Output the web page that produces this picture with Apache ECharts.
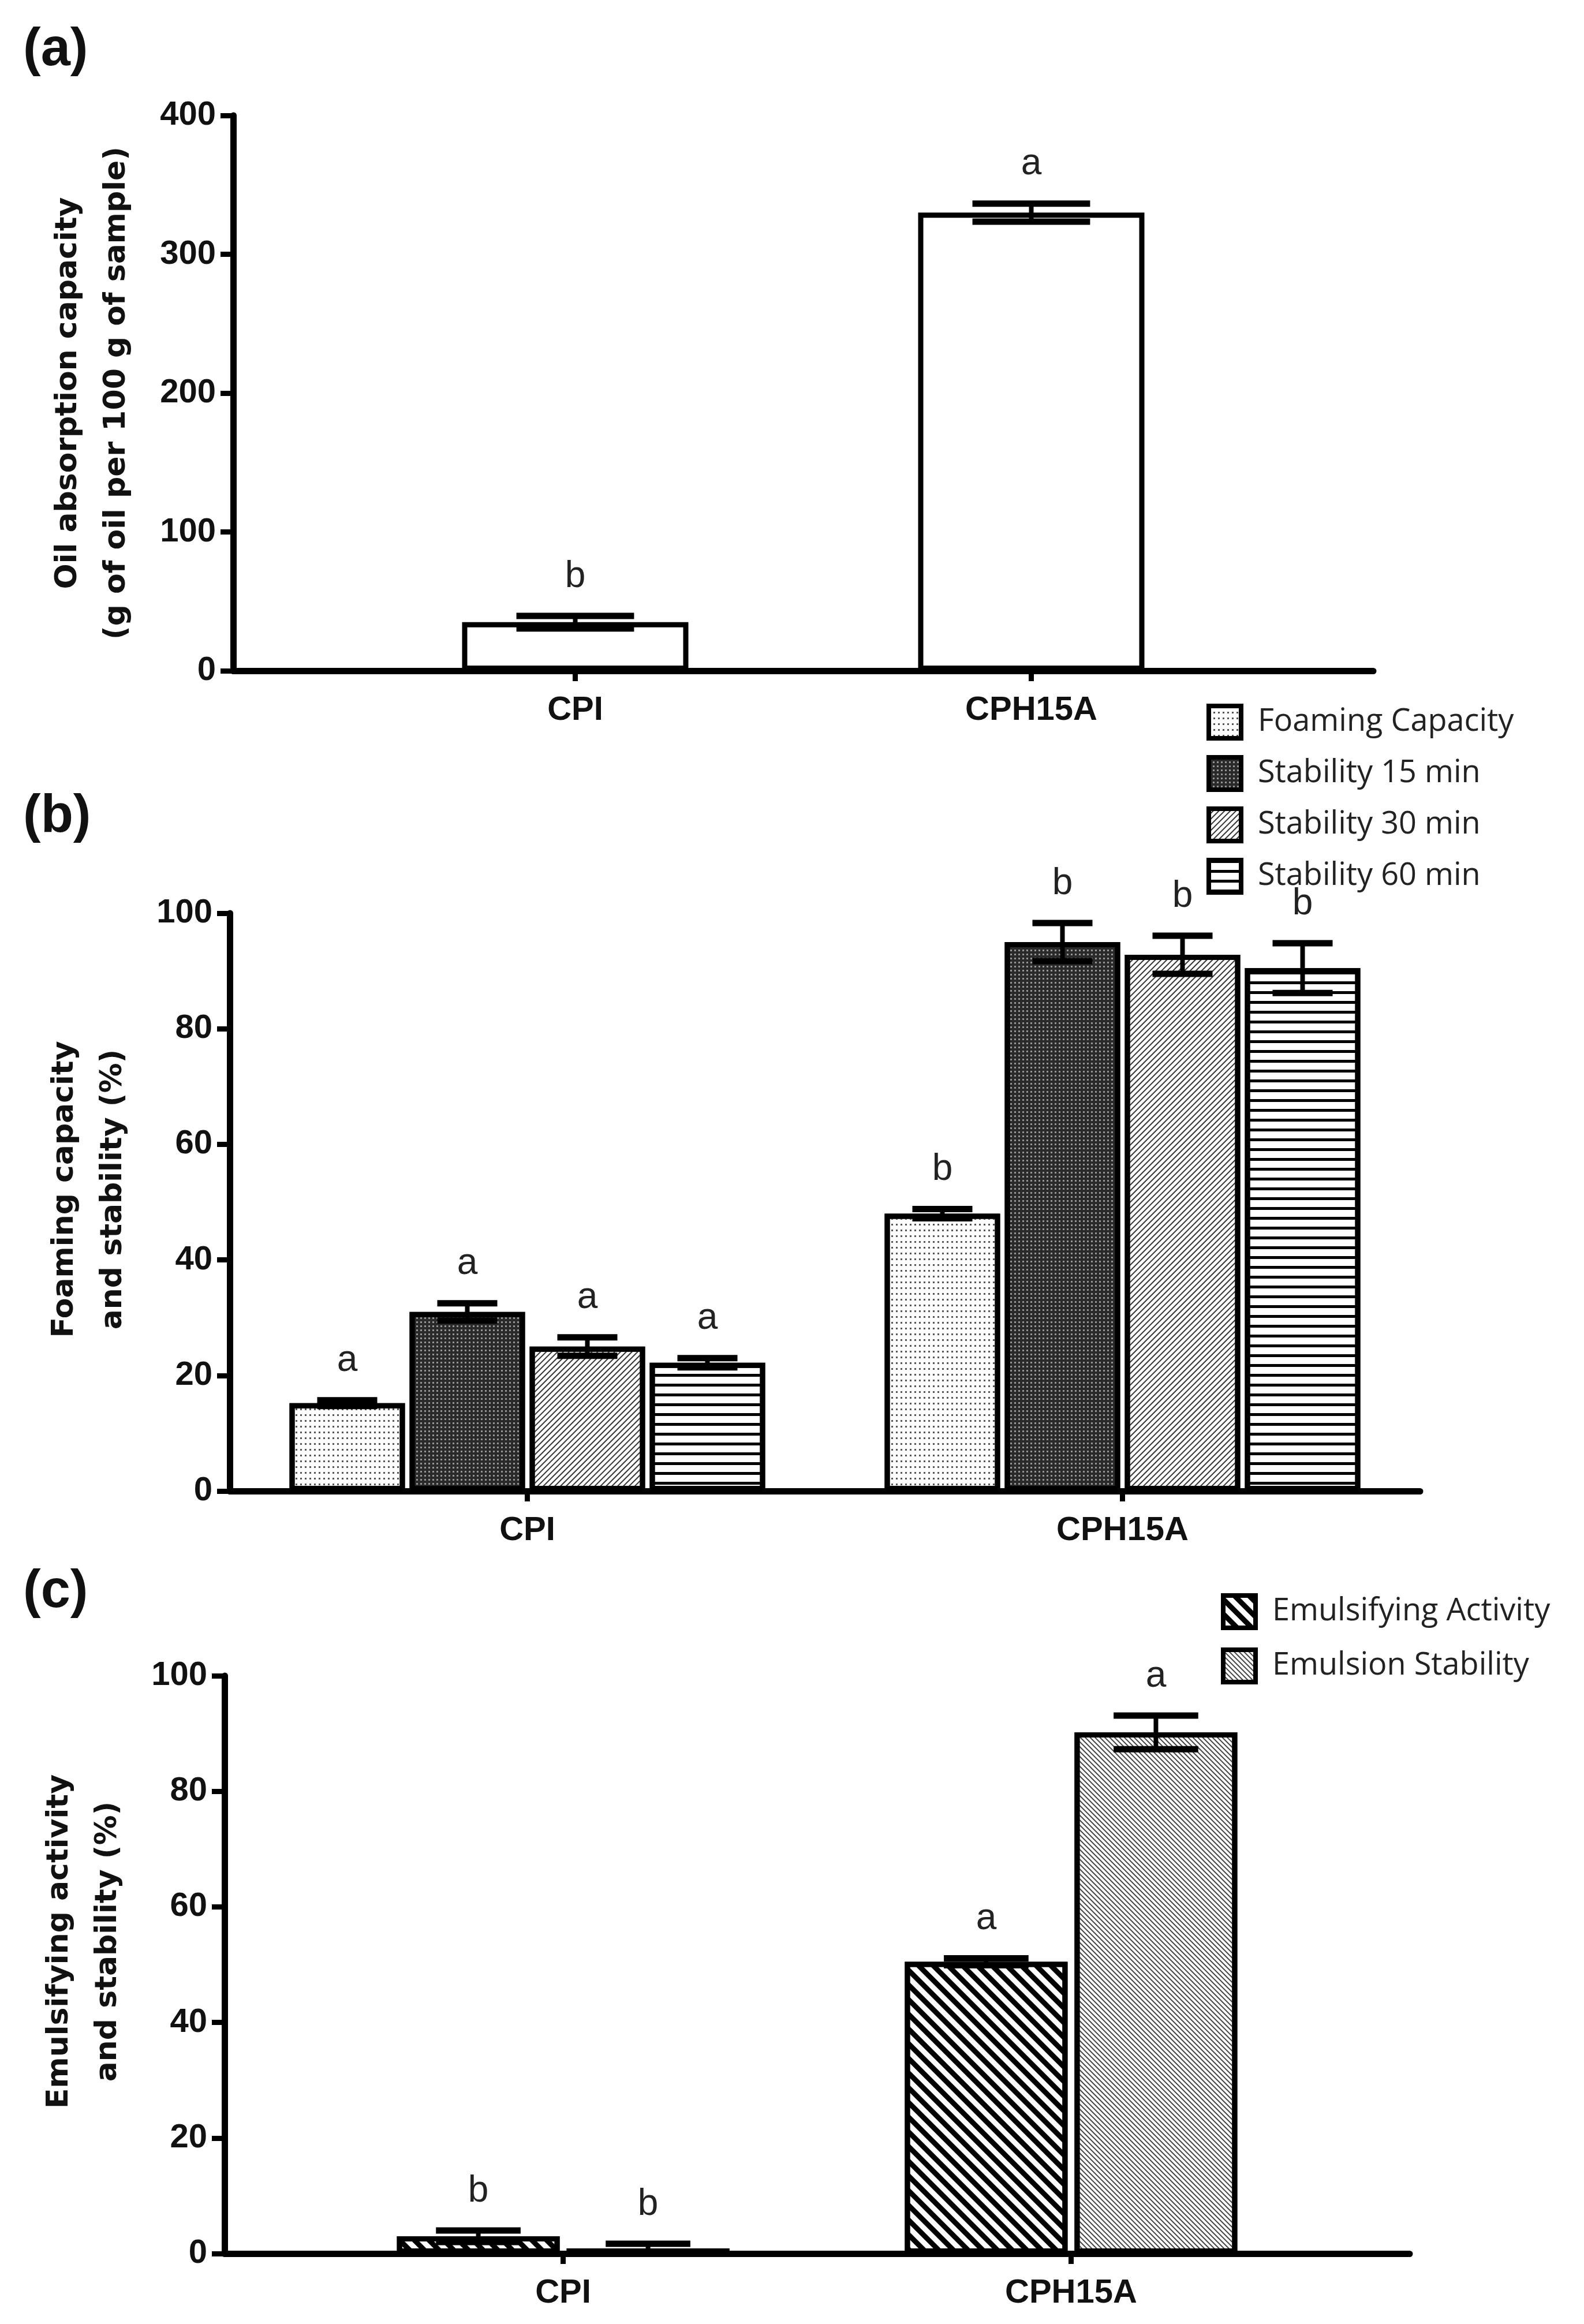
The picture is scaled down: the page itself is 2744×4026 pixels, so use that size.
<!DOCTYPE html>
<html><head><meta charset="utf-8">
<script src="https://cdn.jsdelivr.net/npm/echarts@6/dist/echarts.min.js"></script>
<style>html,body{margin:0;padding:0;background:#fff}#c{width:2744px;height:4026px}</style>
</head><body><div id="c"></div>
<script>
// ---------- Panel (a) ----------
const aCategories = ['CPI', 'CPH15A'];
const aPositions = [3, 7];
const aValues = [35, 330];
const aErrors = [4.5, 6.5];
const aLetters = ['b', 'a'];

// ---------- Panel (b) ----------
const bCategories = ['CPI', 'CPH15A'];
const bSeriesNames = ['Foaming Capacity', 'Stability 15 min', 'Stability 30 min', 'Stability 60 min'];
const bFoaming = [15.2, 48];
const bFoamingErr = [0.5, 0.8];
const bStab15 = [31, 95];
const bStab15Err = [1.5, 3.3];
const bStab30 = [25, 92.8];
const bStab30Err = [1.6, 3.3];
const bStab60 = [22.2, 90.5];
const bStab60Err = [0.8, 4.3];
const bLettersFoaming = ['a', 'b'];
const bLetters15 = ['a', 'b'];
const bLetters30 = ['a', 'b'];
const bLetters60 = ['a', 'b'];

// ---------- Panel (c) ----------
const cCategories = ['CPI', 'CPH15A'];
const cPositions = [2, 5];
const cSeriesNames = ['Emulsifying Activity', 'Emulsion Stability'];
const cActivity = [3, 50.5];
const cActivityErr = [1, 0.6];
const cStability = [0.9, 90.2];
const cStabilityErr = [0.8, 2.9];
const cLettersActivity = ['b', 'a'];
const cLettersStability = ['b', 'a'];

// ---------- styles ----------
const BORDER = 9;
const decals = {
  foam: { symbol: 'rect', symbolSize: 1, color: '#555', dashArrayX: [3, 5], dashArrayY: [3, 7], rotation: 0 },
  s15: { symbol: 'rect', symbolSize: 1, color: 'rgba(255,255,255,0.5)', dashArrayX: [3, 4], dashArrayY: [3, 4], rotation: 0 },
  s30: { symbol: 'rect', symbolSize: 1, color: '#333', dashArrayX: [1, 0], dashArrayY: [2, 4.5], rotation: -Math.PI / 4 },
  s60: { symbol: 'rect', symbolSize: 1, color: '#000', dashArrayX: [1, 0], dashArrayY: [5, 11.5], rotation: 0 },
  ea: { symbol: 'rect', symbolSize: 1, color: '#000', dashArrayX: [1, 0], dashArrayY: [9, 9], rotation: Math.PI / 4 },
  es: { symbol: 'rect', symbolSize: 1, color: '#444', dashArrayX: [1, 0], dashArrayY: [2, 3.5], rotation: Math.PI / 4 }
};

function errRender(barWidth, gap, count, index, letters) {
  return function (params, api) {
    const xv = api.value(0), v = api.value(1), e = api.value(2);
    const c = api.coord([xv, v]);
    const total = count * barWidth + (count - 1) * gap;
    const cx = c[0] - total / 2 + index * (barWidth + gap) + barWidth / 2;
    const yt = api.coord([xv, v + e])[1];
    const yb = api.coord([xv, v - e])[1];
    const hw = barWidth * 0.26;
    return {
      type: 'group',
      children: [
        { type: 'line', shape: { x1: cx, y1: yt, x2: cx, y2: yb }, style: { stroke: '#000', lineWidth: 8 } },
        { type: 'line', shape: { x1: cx - hw, y1: yt, x2: cx + hw, y2: yt }, style: { stroke: '#000', lineWidth: 11 } },
        { type: 'line', shape: { x1: cx - hw, y1: yb, x2: cx + hw, y2: yb }, style: { stroke: '#000', lineWidth: 11 } },
        { type: 'text', style: { text: letters[params.dataIndex], x: cx, y: yt - 36, align: 'center', verticalAlign: 'bottom',
            fontSize: 64, fontFamily: 'Liberation Sans, Arial, sans-serif', fill: '#222' } }
      ]
    };
  };
}

const tickFont = { fontSize: 58, fontWeight: 'bold', fontFamily: 'Liberation Sans, Arial, sans-serif', color: '#111' };
const catFont = { fontSize: 58, fontWeight: 'bold', fontFamily: 'Liberation Sans, Arial, sans-serif', color: '#111' };
const nameFont = { fontSize: 52, fontWeight: 'bold', fontFamily: 'DejaVu Sans, sans-serif', color: '#111', lineHeight: 84 };
const legendFont = { fontSize: 54, fontFamily: 'Open Sans, sans-serif', color: '#222', padding: [0, 0, 0, 24] };
const axisLine = { show: true, lineStyle: { color: '#000', width: 11 } };
const legendItemStyle = { borderColor: '#000', borderWidth: 8 };

function yAxisDef(grid, max, interval, name, pad) {
  return {
    type: 'value', gridIndex: grid, min: 0, max: max, interval: interval,
    axisLine: axisLine, splitLine: { show: false },
    axisTick: { show: true, length: 22, lineStyle: { color: '#000', width: 9 } },
    axisLabel: Object.assign({ margin: 30 }, tickFont),
    name: name, nameLocation: 'middle', nameRotate: 90, nameGap: 160,
    nameTextStyle: Object.assign({ padding: [0, 0, 0, pad] }, nameFont)
  };
}

const panelFont = { fontSize: 92, fontWeight: 'bold', fontFamily: 'Liberation Sans, Arial, sans-serif', color: '#111' };

const option = {
  animation: false,
  backgroundColor: '#fff',
  title: [
    { text: '(a)', left: 40, top: 42, padding: 0, textStyle: panelFont },
    { text: '(b)', left: 40, top: 1370, padding: 0, textStyle: panelFont },
    { text: '(c)', left: 40, top: 2713, padding: 0, textStyle: panelFont }
  ],
  legend: [
    { data: bSeriesNames, orient: 'vertical', left: 2085, top: 1214, icon: 'rect', itemWidth: 56, itemHeight: 56, itemGap: 25,
      textStyle: legendFont, itemStyle: legendItemStyle, selectedMode: false },
    { data: cSeriesNames, orient: 'vertical', left: 2110, top: 2755, icon: 'rect', itemWidth: 56, itemHeight: 56, itemGap: 30,
      textStyle: legendFont, itemStyle: legendItemStyle, selectedMode: false }
  ],
  grid: [
    { left: 404, top: 200, width: 1975, height: 962, outerBoundsMode: 'none' },
    { left: 398, top: 1582, width: 2062, height: 1001, outerBoundsMode: 'none' },
    { left: 389, top: 2903, width: 2053, height: 1001, outerBoundsMode: 'none' }
  ],
  xAxis: [
    { type: 'value', gridIndex: 0, min: 0, max: 10, axisLine: axisLine, splitLine: { show: false },
      axisTick: { show: true, customValues: aPositions, length: 18, lineStyle: { color: '#000', width: 9 } },
      axisLabel: Object.assign({ customValues: aPositions, margin: 40, formatter: v => aCategories[aPositions.indexOf(v)] || '' }, catFont) },
    { type: 'category', gridIndex: 1, data: bCategories, axisLine: axisLine,
      axisTick: { show: true, alignWithLabel: true, length: 18, lineStyle: { color: '#000', width: 9 } },
      axisLabel: Object.assign({ margin: 40 }, catFont) },
    { type: 'value', gridIndex: 2, min: 0, max: 7, axisLine: axisLine, splitLine: { show: false },
      axisTick: { show: true, customValues: cPositions, length: 18, lineStyle: { color: '#000', width: 9 } },
      axisLabel: Object.assign({ customValues: cPositions, margin: 40, formatter: v => cCategories[cPositions.indexOf(v)] || '' }, catFont) }
  ],
  yAxis: [
    yAxisDef(0, 400, 100, 'Oil absorption capacity\n(g of oil per 100 g of sample)', 0),
    yAxisDef(1, 100, 20, 'Foaming capacity\nand stability (%)', 44),
    yAxisDef(2, 100, 20, 'Emulsifying activity\nand stability (%)', 80)
  ],
  series: []
};

// Panel (a) bars
const aBarWidth = 392;
option.series.push({
  type: 'bar', name: 'Oil absorption', xAxisIndex: 0, yAxisIndex: 0, barWidth: aBarWidth, z: 2,
  itemStyle: { color: '#fff', borderColor: '#000', borderWidth: BORDER },
  data: aPositions.map((p, i) => [p, aValues[i]])
});
option.series.push({
  type: 'custom', xAxisIndex: 0, yAxisIndex: 0, z: 5, encode: { x: 0, y: 1 },
  renderItem: errRender(aBarWidth, 0, 1, 0, aLetters),
  data: aPositions.map((p, i) => [p, aValues[i], aErrors[i]])
});

// Panel (b) bars
const bBarWidth = 200, bGap = 8;
const bVals = [bFoaming, bStab15, bStab30, bStab60];
const bErrs = [bFoamingErr, bStab15Err, bStab30Err, bStab60Err];
const bLet = [bLettersFoaming, bLetters15, bLetters30, bLetters60];
const bDec = [decals.foam, decals.s15, decals.s30, decals.s60];
const bFill = ['#fff', '#2a2a2a', '#fff', '#fff'];
bSeriesNames.forEach((name, k) => {
  option.series.push({
    type: 'bar', name: name, xAxisIndex: 1, yAxisIndex: 1, barWidth: bBarWidth, barGap: (bGap / bBarWidth * 100) + '%', z: 2,
    itemStyle: { color: bFill[k], borderColor: '#000', borderWidth: BORDER, decal: bDec[k] },
    data: bVals[k]
  });
  option.series.push({
    type: 'custom', xAxisIndex: 1, yAxisIndex: 1, z: 5, encode: { x: 0, y: 1 },
    renderItem: errRender(bBarWidth, bGap, 4, k, bLet[k]),
    data: bVals[k].map((v, i) => [i, v, bErrs[k][i]])
  });
});

// Panel (c) bars
const cBarWidth = 282, cGap = 12;
const cVals = [cActivity, cStability];
const cErrs = [cActivityErr, cStabilityErr];
const cLet = [cLettersActivity, cLettersStability];
const cDec = [decals.ea, decals.es];
cSeriesNames.forEach((name, k) => {
  option.series.push({
    type: 'bar', name: name, xAxisIndex: 2, yAxisIndex: 2, barWidth: cBarWidth, barGap: (cGap / cBarWidth * 100) + '%', z: 2,
    itemStyle: { color: '#fff', borderColor: '#000', borderWidth: BORDER, decal: cDec[k] },
    data: cPositions.map((p, i) => [p, cVals[k][i]])
  });
  option.series.push({
    type: 'custom', xAxisIndex: 2, yAxisIndex: 2, z: 5, encode: { x: 0, y: 1 },
    renderItem: errRender(cBarWidth, cGap, 2, k, cLet[k]),
    data: cPositions.map((p, i) => [p, cVals[k][i], cErrs[k][i]])
  });
});

const chart = echarts.init(document.getElementById('c'), null, { renderer: 'canvas' });
chart.setOption(option);
</script>
</body></html>
